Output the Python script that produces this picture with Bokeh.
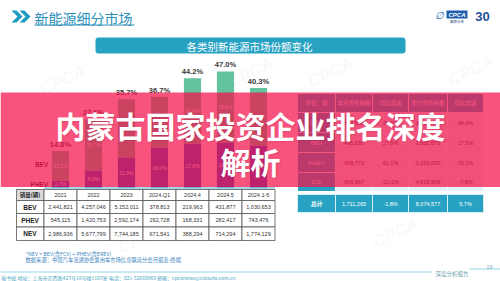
from bokeh.plotting import figure
from bokeh.models import Range1d
from bokeh.core.properties import value
from bokeh.embed import file_html
from bokeh.resources import INLINE

CJK = "Noto Sans CJK SC"
NUM = "Liberation Sans"

# ---------------- data ----------------
periods = ["2021", "2022", "2023", "2024.Q1", "2024.4", "2024.5", "2024.1-5"]
bev_share = [12.1, 20.7, 23.8, 20.7, 26.4, 28.8, 23.3]
phev_share = [2.7, 6.9, 11.9, 16.0, 17.8, 18.2, 17.0]
total_share = [14.8, 27.6, 35.7, 36.7, 44.2, 47.0, 40.3]

sales_header = "销量(辆)"
table_rows = ["BEV", "PHEV", "NEV"]
bev_sales = ["2,441,821", "4,257,046", "5,152,011", "378,813", "219,963", "431,877", "1,030,653"]
phev_sales = ["545,115", "1,420,753", "2,592,174", "292,728", "168,331", "282,417", "743,476"]
nev_sales = ["2,986,936", "5,677,799", "7,744,185", "671,541", "388,294", "714,294", "1,774,129"]

month_header = ["单位：辆", "本月零售销量", "同比增速", "累计零售销量", "同比增速"]
month_rows = ["NEV", "BEV", "PHEV", "ICE", "总计"]
month_sales = ["804,598", "495,835", "308,773", "906,667", "1,711,265"]
month_yoy = ["38.0%", "27.6%", "61.1%", "-22.0%", "-1.8%"]
ytd_sales = ["3,257,771", "1,931,676", "1,326,095", "4,818,806", "8,074,577"]
ytd_yoy = ["34.4%", "17.5%", "70.1%", "-7.6%", "5.7%"]

page_title = "新能源细分市场"
chart_title = "各类别新能源市场份额变化"
banner_lines = ["内蒙古国家投资企业排名深度", "解析"]
note_lines = ["*NEV = BEV(含FCV) + PHEV(含EREV)",
              "数据来源：中国汽车流通协会乘用车市场信息联席分会月报表-终端"]
footer_text = "秘书处   地址：上海市定西路423号18号楼1103室   电话：021-52680968   邮箱：cpcanews@cstauto.com.cn"
footer_right = "深度分析报告"
page_no = "19"

# ---------------- styles ----------------
TEAL = "#27a2c3"
BEV_C = "#62c39e"
PHEV_C = "#3050c8"
BANNER_C = "#f5104a"

p = figure(width=500, height=281, x_range=Range1d(0, 500), y_range=Range1d(281, 0),
           output_backend="svg", toolbar_location=None, min_border=0,
           x_axis_location=None, y_axis_location=None)
p.grid.visible = False
p.outline_line_color = None
p.background_fill_color = "white"
p.border_fill_color = "white"
p.extra_x_ranges = {"idx": Range1d(-60 / 33, 440 / 33)}
p.extra_y_ranges = {"pct": Range1d(-94 / 2.47, 187 / 2.47)}


def txt(x, y, texts, size, color, align="center", baseline="middle", bold=False,
        font=CJK, alpha=1.0, angle=0.0, italic=False, **kw):
    style = "bold" if bold else "normal"
    if italic:
        style = "bold italic" if bold else "italic"
    p.text(x=x, y=y, text=texts, text_font=value(font), text_font_size=size,
           text_color=color, text_align=align, text_baseline=baseline,
           text_font_style=style, text_alpha=alpha, angle=angle, **kw)


# watermarks
txt([62, 250, 330, 470, 140, 395], [80, 72, 72, 70, 238, 232], ["CPCA"] * 6, "17px", "#9aa0a6",
    bold=True, italic=True, font=NUM, alpha=0.08, angle=0.45)

# header: chevrons + title
p.patches(xs=[[11, 16, 22, 16, 11, 17], [19, 24, 30, 24, 19, 25]],
          ys=[[10, 10, 16, 22, 22, 16], [10, 10, 16, 22, 22, 16]],
          fill_color="#1e9cc4", line_color=None)
txt([34], [17], [page_title], "14px", "#2a8fbb", align="left")
p.line(x=[34, 134], y=[24.5, 24.5], line_color="#2a8fbb", line_width=1)

# logo
p.quad(left=[446], right=[467], top=[10], bottom=[18], fill_color="#1f5fae", line_color=None)
txt([456.5], [14.2], ["CPCA"], "6px", "white", bold=True, italic=True, font=NUM)
txt([456.5], [20.5], ["乘联分会"], "3.5px", "#1f3f7a")
txt([439], [15], ["∅"], "10px", "#2f6fb8", italic=True, font=NUM)
txt([482], [16], ["30"], "13px", "#1f4f9a", bold=True, font=NUM)

# chart header box
p.quad(left=[95], right=[405], top=[37], bottom=[53], fill_color=TEAL, line_color=None,
       border_radius=3)
txt([249], [45.5], [chart_title], "10.5px", "white")

# ---------------- stacked bars ----------------
idx = list(range(len(periods)))
bev_top = [a + b for a, b in zip(phev_share, bev_share)]
p.vbar(x=idx, width=0.52, bottom=0, top=phev_share, fill_color=PHEV_C, line_color=None,
       x_range_name="idx", y_range_name="pct")
p.vbar(x=idx, width=0.52, bottom=phev_share, top=bev_top, fill_color=BEV_C, line_color=None,
       x_range_name="idx", y_range_name="pct")
txt(idx, [v / 2 for v in phev_share], [f"{v:.1f}%" for v in phev_share], "5px", "white",
    font=NUM, x_range_name="idx", y_range_name="pct")
txt(idx, [a + b / 2 for a, b in zip(phev_share, bev_share)], [f"{v:.1f}%" for v in bev_share],
    "5px", "white", font=NUM, x_range_name="idx", y_range_name="pct")
txt(idx, [t + 0.8 for t in total_share], [f"{t:.1f}%" for t in total_share], "7.5px", "#3a3a3a",
    baseline="bottom", bold=True, font=NUM, x_range_name="idx", y_range_name="pct")
txt([-0.37, -0.37], [phev_share[0] + bev_share[0] / 2 + 0.6, phev_share[0] / 2],
    ["BEV", "PHEV"], "6.5px", "#3a1a2a", align="right", bold=True, font=NUM,
    x_range_name="idx", y_range_name="pct")

# ---------------- right table ----------------
col_edges = [297, 335, 372, 408, 447, 483]
col_mid = [(a + b) / 2 for a, b in zip(col_edges[:-1], col_edges[1:])]
row_tops = [93, 112, 132, 152, 172]
row_bots = [112, 132, 152, 172, 191]
# header row
p.quad(left=col_edges[:-1], right=col_edges[1:], top=[93] * 5, bottom=[112] * 5,
       fill_color=TEAL, line_color="white", line_width=1)
txt(col_mid, [102.5] * 5, month_header, "5.5px", "white")
# data rows (NEV..ICE)
for r in range(4):
    t, b = row_tops[r + 1], row_bots[r + 1]
    p.quad(left=[297], right=[335], top=[t], bottom=[b], fill_color=TEAL, line_color="white", line_width=1)
    p.quad(left=col_edges[1:-1], right=col_edges[2:], top=[t] * 4, bottom=[b] * 4,
           fill_color="#e2f3f8", line_color="white", line_width=1.2)
    ym = (t + b) / 2
    txt([316], [ym], [month_rows[r]], "6px", "white", font=NUM)
    txt(col_mid[1:], [ym] * 4, [month_sales[r], month_yoy[r], ytd_sales[r], ytd_yoy[r]],
        "5.5px", "#333333", font=NUM)
# total row
p.quad(left=col_edges[:-1], right=col_edges[1:], top=[194] * 5, bottom=[212] * 5,
       fill_color=TEAL, line_color="#d8eef5", line_width=1)
txt(col_mid, [203] * 5, [month_rows[4], month_sales[4], month_yoy[4], ytd_sales[4], ytd_yoy[4]],
    "5.5px", "white", font=NUM)
txt([316], [203], [month_rows[4]], "5.5px", "white")

# ---------------- banner ----------------
p.quad(left=[0], right=[500], top=[92], bottom=[186.5], fill_color=BANNER_C, fill_alpha=0.72,
       line_color=None)
txt([251, 251], [125, 161], banner_lines, "30px", "#7a0020", bold=True, alpha=0.18)
txt([250, 250], [124, 160], banner_lines, "30px", "white", bold=True)
p.line(x=[43.5, 274.5], y=[187.5, 187.5], line_color="#3fb3c9", line_width=1.2)

# ---------------- left table ----------------
ltop = [189, 200, 213, 226.5]
lbot = [200, 213, 226.5, 240]
p.quad(left=[16], right=[43.5], top=[189], bottom=[200], fill_color="#dcdcdc",
       line_color="#555555", line_width=0.8)
p.quad(left=[i - 0.5 for i in idx], right=[i + 0.5 for i in idx], top=[189] * 7, bottom=[200] * 7,
       fill_color="white", line_color="#555555", line_width=0.8, x_range_name="idx")
txt([29.5], [194.8], [sales_header], "5.5px", "#222222", bold=True)
txt(idx, [194.8] * 7, periods, "5.5px", "#333333", font=NUM, x_range_name="idx")
row_values = [bev_sales, phev_sales, nev_sales]
for r in range(3):
    t, b = ltop[r + 1], lbot[r + 1]
    ym = (t + b) / 2
    p.quad(left=[16], right=[43.5], top=[t], bottom=[b], fill_color="white",
           line_color="#555555", line_width=0.8)
    p.quad(left=[i - 0.5 for i in idx], right=[i + 0.5 for i in idx], top=[t] * 7, bottom=[b] * 7,
           fill_color="white", line_color="#555555", line_width=0.8, x_range_name="idx")
    txt([29.5], [ym], [table_rows[r]], "6.5px", "#222222", bold=True, font=NUM)
    txt(idx, [ym] * 7, row_values[r], "5.5px", "#333333", font=NUM, x_range_name="idx")

# notes
txt([25, 25], [253, 259.5], note_lines, "5.3px", "#3a86c0", align="left")

# footer
p.line(x=[0, 431], y=[271.5, 271.5], line_color="#8fd3e2", line_width=1)
p.line(x=[469, 500], y=[268.5, 268.5], line_color="#8fd3e2", line_width=1)
txt([435], [273], [footer_right], "5.5px", "#6d9fae", align="left")
txt([489], [266.5], [page_no], "5.5px", "#8aaab5", font=NUM)
txt([1], [277], [footer_text], "5px", "#4aa6c4", align="left")

open("out.html", "w").write(file_html(p, INLINE))
